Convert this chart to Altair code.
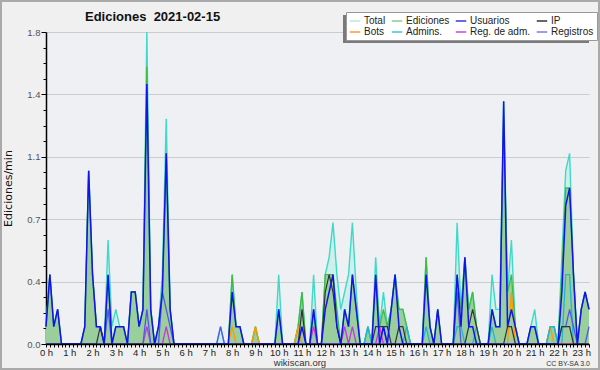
import altair as alt
import pandas as pd

# 10-minute buckets, edits per minute (index 0 = 0:00, 140 = 23:20)
TOTAL = [0.1,0.4,0.1,0.2,0,0,  0,0,0,0,0.1,1.0,  0.4,0.1,0.1,0,0.6,0.1,  0.2,0.1,0.1,0,0.3,0.3,
         0.1,0.2,1.8,0.2,0,0.1,  0.4,1.3,0.2,0,0,0,  0,0,0,0,0,0,  0,0,0,0.1,0,0,
         0.4,0.1,0.1,0,0,0,  0.1,0,0,0,0,0,  0.4,0,0,0,0,0.1,  0.3,0,0,0.4,0,0,
         0.4,0.5,0.7,0.4,0.2,0.3,  0.4,0.7,0.3,0,0,0.1,  0,0.5,0.1,0.3,0.1,0.2,  0.4,0.2,0.2,0.1,0,0,
         0,0,0.5,0.1,0,0.2,  0,0,0,0,0.7,0.2,  0.5,0.2,0.3,0.1,0,0,  0,0.4,0.2,0.2,1.4,0.3,
         0.6,0.1,0,0,0,0.1,  0.2,0,0,0,0.1,0.1,  0,0.5,1.0,1.1,0.4,0,  0.2,0.3,0.2]
EDICIONES = [0.1,0.4,0.1,0.2,0,0,  0,0,0,0,0.1,1.0,  0.4,0.1,0.1,0,0.4,0,  0.1,0.1,0.1,0,0.3,0.3,
             0.1,0.2,1.6,0.2,0,0.1,  0.3,1.1,0.2,0,0,0,  0,0,0,0,0,0,  0,0,0,0,0,0,
             0.4,0.1,0.1,0,0,0,  0.1,0,0,0,0,0,  0.2,0,0,0,0,0.1,  0.3,0,0,0.2,0,0,
             0.4,0.4,0.4,0.2,0,0.2,  0.1,0.4,0.2,0,0,0.1,  0,0.4,0.1,0.2,0.1,0.2,  0.4,0.2,0.2,0.1,0,0,
             0,0,0.5,0.1,0,0.2,  0,0,0,0,0.4,0.2,  0.5,0.2,0.3,0.1,0,0,  0,0.2,0.1,0.1,1.3,0.3,
             0.4,0.1,0,0,0,0.1,  0.1,0,0,0,0.1,0.1,  0,0.4,0.9,0.9,0.4,0,  0.2,0.3,0.2]
USUARIOS = [0.1,0.4,0.1,0.2,0,0,  0,0,0,0,0.1,1.0,  0.4,0.1,0.1,0,0.4,0,  0.1,0.1,0.1,0,0.3,0.3,
            0.1,0.2,1.5,0.2,0,0.1,  0.3,1.1,0.2,0,0,0,  0,0,0,0,0,0,  0,0,0,0,0,0,
            0.3,0.1,0.1,0,0,0,  0,0,0,0,0,0,  0.2,0,0,0,0,0,  0.1,0,0,0.2,0,0,
            0.2,0.3,0.4,0.1,0,0.2,  0.1,0.4,0.2,0,0,0,  0,0.4,0,0.1,0,0.2,  0.4,0.1,0,0,0,0,
            0,0,0.4,0.1,0,0.2,  0,0,0,0,0.4,0.1,  0.5,0.1,0.1,0,0,0,  0,0.2,0.1,0.1,1.4,0.1,
            0.2,0.1,0,0,0,0.1,  0.1,0,0,0,0,0,  0,0.3,0.8,0.9,0.4,0,  0.2,0.3,0.2]
IP = [0,0,0,0,0,0,  0,0,0,0,0,0,  0,0,0.1,0,0,0,  0,0,0,0,0,0,
      0,0,0,0,0,0,  0,0,0,0,0,0,  0,0,0,0,0,0,  0,0,0,0,0,0,
      0,0,0,0,0,0,  0,0,0,0,0,0,  0,0,0,0,0,0,  0.2,0,0,0,0,0,
      0.3,0.4,0.3,0.1,0,0,  0,0,0,0,0,0,  0,0.1,0.1,0.1,0.1,0,  0,0.1,0.1,0,0,0,
      0,0,0,0,0,0,  0,0,0,0,0,0,  0,0.1,0.2,0.1,0,0,  0,0,0,0,0,0.1,
      0.1,0,0,0,0,0,  0,0,0,0,0,0,  0,0.1,0.1,0.1,0,0,  0,0,0]
BOTS = [0]*48 + [0.1] + [0]*5 + [0.1] + [0]*10 + [0.1] + [0]*54 + [0.3] + [0]*9 + [0.1] + [0]*10
ADMINS = ([0]*83 + [0.1] + [0]*9 + [0.1] + [0]*4 + [0.1] + [0]*7 + [0.1, 0.1] + [0]*3 + [0.1]
          + [0]*3 + [0.1] + [0]*14 + [0.1, 0.1, 0, 0, 0.4, 0.4] + [0]*5)
REG_ADM = [0]*26 + [0.1] + [0]*4 + [0.1] + [0]*37 + [0.1] + [0]*7 + [0.1, 0, 0.1] + [0]*6 + [0.1] + [0]*54
REGISTROS = ([0]*16 + [0.2] + [0]*9 + [0.2, 0, 0, 0, 0.3, 0.2, 0.1] + [0]*12 + [0.1] + [0]*41 + [0.1]
             + [0]*18 + [0.3] + [0]*26 + [0.1, 0.1, 0.2, 0.1, 0, 0, 0, 0.1])

SERIES = ["Total", "Ediciones", "Usuarios", "IP", "Bots", "Admins.", "Reg. de adm.", "Registros"]
LEGEND_COLORS = ["#b4eae2", "#88cc88", "#3737d8", "#333333", "#ff9933", "#44c4dd", "#cc44dd", "#7a7aee"]

n = len(TOTAL)
df = pd.DataFrame({
    "i": list(range(n)), "Total": TOTAL, "Ediciones": EDICIONES, "Usuarios": USUARIOS,
    "IP": IP, "Bots": BOTS, "Admins": ADMINS, "RegAdm": REG_ADM, "Registros": REGISTROS,
})

FONT = "Liberation Sans"
xscale = alt.Scale(domain=[0, 140], nice=False, zero=False)
yscale = alt.Scale(domain=[0, 1.8], nice=False)
major = "round(datum.value / 0.09) % 4 == 0"

xaxis = alt.Axis(
    values=list(range(0, 141)),
    labelExpr="datum.value % 6 == 0 ? (datum.value / 6) + ' h' : ''",
    labelOverlap=False, labelFlush=False, labelFont=FONT, labelFontSize=9.5, labelColor="#222",
    labelPadding=0, tickSize=3, tickColor="#000", domainColor="#000", domainWidth=1.5,
    grid=False, title=None, zindex=1,
)
yaxis = alt.Axis(
    values=[round(k * 0.09, 2) for k in range(21)],
    labelExpr="round(datum.value / 0.09) % 4 == 0 ? format(datum.value, '.1f') : ''",
    labelOverlap=False, labelFont=FONT, labelFontSize=9.5, labelColor="#555", labelPadding=1,
    tickColor="#000", domainColor="#000", domainWidth=1.5,
    tickSize=alt.condition(major, alt.value(5), alt.value(3)),
    grid=True, gridColor="#cccccc", gridWidth=1,
    gridOpacity=alt.condition(major + " && datum.value > 0", alt.value(1), alt.value(0)),
    title="Ediciones/min", titleFont="DejaVu Sans", titleFontSize=11, titleFontWeight="normal",
    titleColor="#111", titleX=-33, titleY=156, titleAngle=270,
)

base = alt.Chart(df)

def enc(col):
    return dict(
        x=alt.X("i:Q", scale=xscale, axis=xaxis, title=None),
        y=alt.Y(f"{col}:Q", scale=yscale, axis=yaxis, title="Ediciones/min"),
    )

total_area = base.mark_area(color="#c9efe9", opacity=0.9).encode(**enc("Total"))
ed_area = base.mark_area(color="#96cc96", opacity=0.92).encode(**enc("Ediciones"))

def line(col, color, width):
    return base.mark_line(color=color, strokeWidth=width).encode(**enc(col))

lines = [
    line("Total", "#40d8c8", 1.4),
    line("Ediciones", "#40bb40", 1.3),
    line("Bots", "#ff9900", 1.3),
    line("Admins", "#22b4d8", 1.3),
    line("RegAdm", "#cc33dd", 1.3),
    line("Registros", "#5555ee", 1.3),
    line("IP", "#333333", 1.2),
    line("Usuarios", "#1212ee", 1.5),
]

legend_df = pd.DataFrame({"s": SERIES})
legend_layer = alt.Chart(legend_df).mark_point(opacity=0, filled=False).encode(
    x=alt.value(0), y=alt.value(0),
    color=alt.Color("s:N", scale=alt.Scale(domain=SERIES, range=LEGEND_COLORS), legend=alt.Legend(
        title=None, orient="none", legendX=300, legendY=-20, columns=4, direction="horizontal",
        fillColor="#ffffff", strokeColor="#999999", padding=3,
        symbolType="stroke", symbolSize=110, symbolStrokeWidth=1.5, symbolOpacity=1,
        labelFont=FONT, labelFontSize=10, labelColor="#222", labelOffset=3, labelLimit=200,
        columnPadding=2, rowPadding=-2,
    )),
)

deco_df = pd.DataFrame({"k": [0]})
shadow = alt.Chart(deco_df).mark_rect(color="#7a7a7a").encode(
    x=alt.value(297), x2=alt.value(543), y=alt.value(-17), y2=alt.value(11))
border = alt.Chart(deco_df).mark_rect(fillOpacity=0, stroke="#aaaaaa", strokeWidth=2).encode(
    x=alt.value(-45), x2=alt.value(553), y=alt.value(-31), y2=alt.value(337))

texts = pd.DataFrame({"t": ["Ediciones\u00a0 2021-02-15", "wikiscan.org", "CC BY-SA 3.0"]})
title = alt.Chart(texts).transform_filter(alt.datum.t == texts.t[0]).mark_text(
    font=FONT, fontSize=13, fontWeight="bold", align="left", baseline="alphabetic", color="#111"
).encode(x=alt.value(39), y=alt.value(-11), text="t:N")
site = alt.Chart(texts).transform_filter(alt.datum.t == texts.t[1]).mark_text(
    font=FONT, fontSize=9.5, align="center", baseline="alphabetic", color="#333"
).encode(x=alt.value(254), y=alt.value(334), text="t:N")
lic = alt.Chart(texts).transform_filter(alt.datum.t == texts.t[2]).mark_text(
    font=FONT, fontSize=7, align="right", baseline="alphabetic", color="#333"
).encode(x=alt.value(544), y=alt.value(334), text="t:N")

chart = alt.layer(total_area, ed_area, *lines, legend_layer, shadow, border, title, site, lic).properties(
    width=543, height=312, background="#f0f0f0",
    autosize=alt.AutoSizeParams(type="none"),
    padding={"left": 46, "top": 32, "right": 11, "bottom": 26},
).configure_view(fill="#eef0f3", stroke=None)

chart.save("out.html", embed_options={"renderer": "svg", "actions": False})
